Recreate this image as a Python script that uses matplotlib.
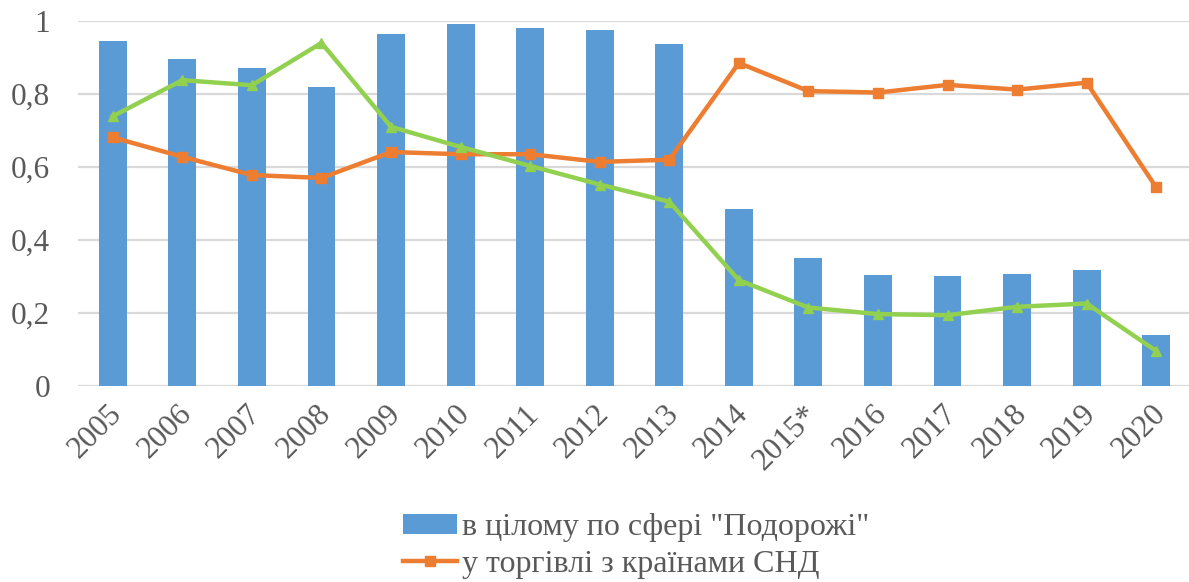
import matplotlib
matplotlib.use("Agg")
import matplotlib.pyplot as plt
from matplotlib.patches import Patch
from matplotlib.lines import Line2D
from matplotlib.transforms import ScaledTranslation
import numpy as np

years = ["2005", "2006", "2007", "2008", "2009", "2010", "2011", "2012",
         "2013", "2014", "2015*", "2016", "2017", "2018", "2019", "2020"]
travel_total = [0.946, 0.897, 0.872, 0.820, 0.964, 0.993, 0.982, 0.974,
                0.936, 0.484, 0.350, 0.305, 0.301, 0.308, 0.319, 0.141]
cis_trade = [0.681, 0.628, 0.578, 0.570, 0.641, 0.635, 0.635, 0.614,
             0.620, 0.885, 0.808, 0.804, 0.825, 0.812, 0.831, 0.544]
other_trade = [0.739, 0.838, 0.824, 0.940, 0.710, 0.655, 0.603, 0.552,
               0.505, 0.290, 0.215, 0.197, 0.194, 0.217, 0.226, 0.096]
yticks = [0, 0.2, 0.4, 0.6, 0.8, 1.0]
ytick_labels = ["0", "0,2", "0,4", "0,6", "0,8", "1"]

label_bar = 'в цілому по сфері "Подорожі"'
label_orange = "у торгівлі з країнами СНД"

blue = "#5B9BD5"
orange = "#ED7D31"
green = "#92D050"
text_col = "#595959"

plt.rcParams["font.family"] = ["Liberation Serif", "DejaVu Serif"]

W, H = 1189, 582
fig = plt.figure(figsize=(W / 100, H / 100), dpi=100)
left, right, top, bottom = 78, 1191, 21, 386
ax = fig.add_axes([left / W, 1 - bottom / H, (right - left) / W, (bottom - top) / H])

x = np.arange(len(years))
ax.bar(x, travel_total, width=0.4, color=blue, zorder=2)
ax.plot(x, cis_trade, color=orange, lw=3.2, marker="s", ms=7.5, zorder=3)
ax.plot(x, other_trade, color=green, lw=3.2, marker="^", ms=7.5, zorder=4)

ax.set_xlim(-0.5, len(years) - 0.5)
ax.set_ylim(0, 1)
ax.set_yticks(yticks)
ax.set_yticklabels(ytick_labels, fontsize=22.5, color=text_col)
ax.set_xticks(x)
ax.set_xticklabels([])
# category labels, rotated 45 degrees, anchored at their right-centre
lab_trans = ax.get_xaxis_transform() + ScaledTranslation(5 / 100, -24 / 100, fig.dpi_scale_trans)
for xi, yr in zip(x, years):
    ax.text(xi, 0, yr, transform=lab_trans, fontsize=22.5, color=text_col,
            rotation=45, ha="right", va="center", rotation_mode="anchor",
            clip_on=False)
ax.tick_params(axis="both", length=0)
ax.tick_params(axis="y", pad=20)
ax.yaxis.grid(True, color="#D9D9D9", lw=1.6, zorder=0)
ax.set_axisbelow(True)
for s in ax.spines.values():
    s.set_visible(False)

handles = [Patch(facecolor=blue, edgecolor="none"),
           Line2D([0], [0], color=orange, lw=3.2, marker="s", ms=7.5)]
fig.legend(handles, [label_bar, label_orange], loc="upper left",
           bbox_to_anchor=(403 / W, 1 - 513 / H), frameon=False,
           fontsize=23, labelcolor=text_col, handlelength=1.7,
           handleheight=0.6, handletextpad=0.15, labelspacing=0.25,
           borderpad=0, borderaxespad=0)

fig.savefig("out.png", dpi=100)
